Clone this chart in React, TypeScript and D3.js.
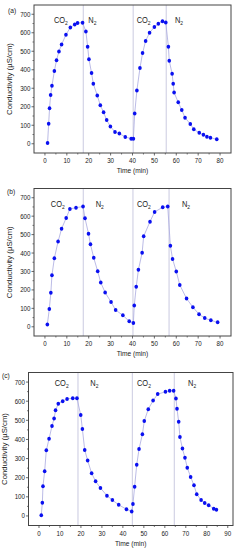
import React from "react";
import * as d3 from "d3";

// ---------- data ----------
const aTime = [1.2,1.7,2.1,2.6,3.2,4.3,5.3,6.4,7.6,9.6,11.6,13.6,14.9,17.2,18.7,19.5,20.1,21.3,22.1,23.9,25.3,26.8,28.2,29.9,32.0,34.0,36.7,39.4,40.4,41.0,42.0,43.4,44.6,46.0,47.8,50.0,51.8,53.7,55.2,56.4,56.8,58.1,58.6,59.0,60.9,62.5,64.0,66.4,68.0,70.5,72.4,74.0,75.6,78.5];
const aCond = [4,108,192,263,313,393,452,499,537,589,629,644,653,654,607,525,457,382,324,261,208,170,128,93,64,55,37,27,27,164,288,409,490,556,600,631,649,662,656,525,448,378,324,277,224,183,141,107,78,59,48,38,32,25];

const bTime = [1.1,2.0,2.7,3.2,4.3,6.0,7.6,9.7,11.4,14.2,17.4,18.3,19.9,20.8,22.3,24.1,25.5,27.5,30.2,32.3,35.6,38.5,40.4,40.8,41.7,42.7,44.4,45.1,48.0,50.1,53.8,56.1,57.3,58.3,60.0,61.6,64.7,67.6,70.4,73.0,75.8,78.9];
const bCond = [13,97,185,279,372,462,532,590,639,646,652,589,505,447,374,301,240,186,134,91,62,30,20,115,217,309,402,491,570,623,648,653,439,368,300,227,153,106,68,47,35,24];

const cTime = [1.1,1.6,1.9,2.7,3.5,4.8,6.2,7.2,7.9,9.2,11.3,13.4,16.1,18.1,19.9,20.7,21.8,23.2,25.1,27.0,29.3,32.4,35.0,38.0,41.7,44.2,44.8,45.6,46.6,47.7,49.3,50.2,52.1,54.4,56.6,60.3,62.3,64.2,65.3,65.8,66.6,67.2,68.4,69.6,70.7,72.3,73.9,75.2,77.3,79.0,80.9,83.3,84.6];
const cCond = [4,69,155,234,343,403,470,510,552,587,600,612,616,616,528,454,345,290,223,181,146,106,83,58,35,23,62,153,267,350,427,496,558,603,637,649,654,654,614,561,492,413,352,304,252,204,160,114,83,67,56,38,33];

const aSwitch = [17.5, 40.3, 55.4];
const bSwitch = [17.5, 40.2, 56.7];
const cSwitch = [18.6, 44.5, 64.5];

const gasNames = ["CO", "N", "CO", "N"];
const aGasTime = [4.1, 19.8, 41.9, 59.4];
const bGasTime = [2.7, 23.2, 42.0, 62.6];
const cGasTime = [7.5, 24.5, 46.7, 71.1];

const yTicks = [0, 100, 200, 300, 400, 500, 600, 700];
const abXTicks = [0, 10, 20, 30, 40, 50, 60, 70, 80];
const cXTicks = [0, 10, 20, 30, 40, 50, 60, 70, 80, 90];

const xTitle = "Time (min)";
const yTitle = "Conductivity (\u00b5S/cm)";

// ---------- layout ----------
const W = 241;
const H = 550;
const SX = 0.85; // horizontal squeeze of the original picture
const FONT = "'Liberation Sans', Arial, Helvetica, sans-serif";

type PanelCfg = {
  label: string;
  time: number[];
  cond: number[];
  switches: number[];
  gasTime: number[];
  gasY: number;
  xTicks: number[];
  xMax: number;
  l: number; r: number; t: number; b: number;
  labelX: number; labelY: number; yTitleX: number;
};

const panels: PanelCfg[] = [
  { label: "(a)", time: aTime, cond: aCond, switches: aSwitch, gasTime: aGasTime, gasY: 655,
    xTicks: abXTicks, xMax: 85, l: 34, r: 231, t: 5, b: 153, labelX: 8, labelY: 13, yTitleX: 12 },
  { label: "(b)", time: bTime, cond: bCond, switches: bSwitch, gasTime: bGasTime, gasY: 648,
    xTicks: abXTicks, xMax: 85, l: 34, r: 231, t: 188.5, b: 336, labelX: 7, labelY: 194, yTitleX: 12 },
  { label: "(c)", time: cTime, cond: cCond, switches: cSwitch, gasTime: cGasTime, gasY: 678,
    xTicks: cXTicks, xMax: 92.5, l: 28.5, r: 233, t: 372.5, b: 525.5, labelX: 2, labelY: 378, yTitleX: 7 },
];

function SText(props: { x: number; y: number; anchor?: string; size: number; children: React.ReactNode; rotate?: boolean }) {
  const { x, y, anchor = "start", size, children, rotate } = props;
  const tf = rotate
    ? `translate(${x},${y}) scale(${SX},1) rotate(-90)`
    : `translate(${x},${y}) scale(${SX},1)`;
  return (
    <text transform={tf} textAnchor={anchor} fontSize={size} fontFamily={FONT} fill="#1a1a1a">
      {children}
    </text>
  );
}

function Panel({ p }: { p: PanelCfg }) {
  const x = d3.scaleLinear().domain([-5, p.xMax]).range([p.l, p.r]);
  const y = d3.scaleLinear().domain([-50, 750]).range([p.b, p.t]);
  const pts = p.time.map((t, i) => [t, p.cond[i]] as [number, number]);
  const line = d3.line<[number, number]>().x((d) => x(d[0])).y((d) => y(d[1]));
  const xMinor = d3.range(5, p.xTicks[p.xTicks.length - 1] + 1, 10);
  const yMinor = d3.range(50, 751, 100).filter((v) => v < 750);
  return (
    <g>
      {p.switches.map((s, i) => (
        <line key={"s" + i} x1={x(s)} x2={x(s)} y1={p.t} y2={p.b} stroke="#c4c4dc" strokeWidth={0.9} />
      ))}
      <path d={line(pts) || ""} fill="none" stroke="#a9aadf" strokeWidth={0.8} />
      {pts.map((d, i) => (
        <ellipse key={"p" + i} cx={x(d[0])} cy={y(d[1])} rx={1.8} ry={2.0} fill="#0a10f0" />
      ))}
      <rect x={p.l} y={p.t} width={p.r - p.l} height={p.b - p.t} fill="none" stroke="#444" strokeWidth={1} />
      {/* x ticks */}
      {p.xTicks.map((v) => (
        <g key={"xt" + v}>
          <line x1={x(v)} x2={x(v)} y1={p.b} y2={p.b + 2.5} stroke="#444" strokeWidth={0.8} />
          <SText x={x(v)} y={p.b + 10} anchor="middle" size={7.3}>{String(v)}</SText>
        </g>
      ))}
      {xMinor.map((v) => (
        <line key={"xm" + v} x1={x(v)} x2={x(v)} y1={p.b} y2={p.b + 1.5} stroke="#444" strokeWidth={0.7} />
      ))}
      {/* y ticks */}
      {yTicks.map((v) => (
        <g key={"yt" + v}>
          <line x1={p.l - 2.5} x2={p.l} y1={y(v)} y2={y(v)} stroke="#444" strokeWidth={0.8} />
          <SText x={p.l - 3.5} y={y(v) + 2.5} anchor="end" size={7.3}>{String(v)}</SText>
        </g>
      ))}
      {yMinor.map((v) => (
        <line key={"ym" + v} x1={p.l - 1.5} x2={p.l} y1={y(v)} y2={y(v)} stroke="#444" strokeWidth={0.7} />
      ))}
      {/* titles */}
      <SText x={(p.l + p.r) / 2} y={p.b + 20} anchor="middle" size={7.8}>{xTitle}</SText>
      <SText x={p.yTitleX} y={(p.t + p.b) / 2} anchor="middle" size={7.8} rotate>{yTitle}</SText>
      <SText x={p.labelX} y={p.labelY} size={7.8}>{p.label}</SText>
      {/* gas labels */}
      {p.gasTime.map((t, i) => (
        <SText key={"g" + i} x={x(t)} y={y(p.gasY)} size={8.8}>
          {gasNames[i]}
          <tspan fontSize={5.8} dy={2}>2</tspan>
        </SText>
      ))}
    </g>
  );
}

export default function App() {
  return (
    <div style={{ position: "absolute", left: 0, top: 0, width: W, height: H, background: "#fff" }}>
      <svg width={W} height={H} viewBox={`0 0 ${W} ${H}`} style={{ display: "block" }}>
        <rect x={0} y={0} width={W} height={H} fill="#fff" />
        {panels.map((p) => (
          <Panel key={p.label} p={p} />
        ))}
      </svg>
    </div>
  );
}
